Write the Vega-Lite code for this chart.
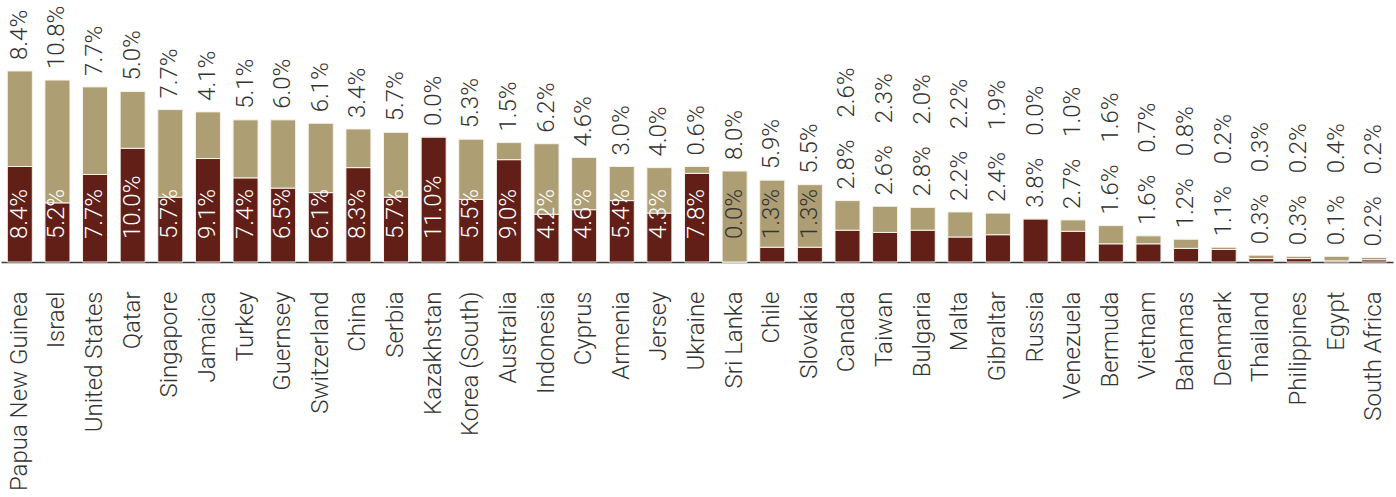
{
  "$schema": "https://vega.github.io/schema/vega-lite/v6.json",
  "autosize": {"type": "none"},
  "padding": {"left": 1, "top": 0, "right": 3, "bottom": 235},
  "width": 1392,
  "height": 262,
  "background": "white",
  "config": {"view": {"stroke": null}},
  "data": {"values": [
    {"country": "Papua New Guinea", "a": 0.084, "b": 0.084},
    {"country": "Israel", "a": 0.052, "b": 0.108},
    {"country": "United States", "a": 0.077, "b": 0.077},
    {"country": "Qatar", "a": 0.100, "b": 0.050},
    {"country": "Singapore", "a": 0.057, "b": 0.077},
    {"country": "Jamaica", "a": 0.091, "b": 0.041},
    {"country": "Turkey", "a": 0.074, "b": 0.051},
    {"country": "Guernsey", "a": 0.065, "b": 0.060},
    {"country": "Switzerland", "a": 0.061, "b": 0.061},
    {"country": "China", "a": 0.083, "b": 0.034},
    {"country": "Serbia", "a": 0.057, "b": 0.057},
    {"country": "Kazakhstan", "a": 0.110, "b": 0.000},
    {"country": "Korea (South)", "a": 0.055, "b": 0.053},
    {"country": "Australia", "a": 0.090, "b": 0.015},
    {"country": "Indonesia", "a": 0.042, "b": 0.062},
    {"country": "Cyprus", "a": 0.046, "b": 0.046},
    {"country": "Armenia", "a": 0.054, "b": 0.030},
    {"country": "Jersey", "a": 0.043, "b": 0.040},
    {"country": "Ukraine", "a": 0.078, "b": 0.006},
    {"country": "Sri Lanka", "a": 0.000, "b": 0.080},
    {"country": "Chile", "a": 0.013, "b": 0.059},
    {"country": "Slovakia", "a": 0.013, "b": 0.055},
    {"country": "Canada", "a": 0.028, "b": 0.026},
    {"country": "Taiwan", "a": 0.026, "b": 0.023},
    {"country": "Bulgaria", "a": 0.028, "b": 0.020},
    {"country": "Malta", "a": 0.022, "b": 0.022},
    {"country": "Gibraltar", "a": 0.024, "b": 0.019},
    {"country": "Russia", "a": 0.038, "b": 0.000},
    {"country": "Venezuela", "a": 0.027, "b": 0.010},
    {"country": "Bermuda", "a": 0.016, "b": 0.016},
    {"country": "Vietnam", "a": 0.016, "b": 0.007},
    {"country": "Bahamas", "a": 0.012, "b": 0.008},
    {"country": "Denmark", "a": 0.011, "b": 0.002},
    {"country": "Thailand", "a": 0.003, "b": 0.003},
    {"country": "Philippines", "a": 0.003, "b": 0.002},
    {"country": "Egypt", "a": 0.001, "b": 0.004},
    {"country": "South Africa", "a": 0.002, "b": 0.002}
  ]},
  "transform": [
    {"fold": ["a", "b"], "as": ["seg", "val"]},
    {"joinaggregate": [{"op": "sum", "field": "val", "as": "total"}], "groupby": ["country"]}
  ],
  "encoding": {
    "x": {
      "field": "country", "type": "nominal", "sort": null,
      "scale": {"paddingInner": 0.335, "paddingOuter": 0.1675},
      "axis": {
        "title": null, "labelAngle": 270, "labelAlign": "right", "labelBaseline": "middle",
        "labelFont": "Roboto", "labelFontWeight": 300, "labelFontSize": 24, "labelColor": "#333333",
        "labelLimit": 400, "labelPadding": 29, "ticks": false,
        "domainColor": "#3a3a3a", "domainWidth": 1.5
      }
    }
  },
  "layer": [
    {
      "mark": {"type": "bar", "stroke": "#f6f3ea", "strokeWidth": 1},
      "encoding": {
        "y": {"field": "val", "type": "quantitative", "stack": "zero",
              "scale": {"domain": [0, 0.2304], "nice": false}, "axis": null},
        "color": {"field": "seg", "type": "nominal",
                  "scale": {"domain": ["a", "b"], "range": ["#621f18", "#ad9e74"]}, "legend": null},
        "order": {"field": "seg", "sort": "ascending"}
      }
    },
    {
      "transform": [{"filter": "datum.seg == 'b' && datum.total >= 0.06"}],
      "mark": {"type": "text", "angle": 270, "align": "left", "baseline": "middle", "dx": 11,
               "font": "Roboto", "fontWeight": 300, "fontSize": 24, "color": "#333333"},
      "encoding": {
        "y": {"field": "total", "type": "quantitative", "stack": null},
        "text": {"field": "val", "type": "quantitative", "format": ".1%"}
      }
    },
    {
      "transform": [{"filter": "datum.seg == 'b' && datum.total < 0.06"}],
      "mark": {"type": "text", "angle": 270, "align": "left", "baseline": "middle", "dx": 83,
               "font": "Roboto", "fontWeight": 300, "fontSize": 24, "color": "#333333"},
      "encoding": {
        "y": {"field": "total", "type": "quantitative", "stack": null},
        "text": {"field": "val", "type": "quantitative", "format": ".1%"}
      }
    },
    {
      "transform": [{"filter": "datum.seg == 'a' && datum.total >= 0.06"}],
      "mark": {"type": "text", "angle": 270, "align": "left", "baseline": "middle", "dx": 23,
               "font": "Roboto", "fontWeight": 300, "fontSize": 24},
      "encoding": {
        "y": {"datum": 0, "type": "quantitative"},
        "text": {"field": "val", "type": "quantitative", "format": ".1%"},
        "color": {"condition": {"test": "datum.val >= 0.03", "value": "#ffffff"}, "value": "#333333"}
      }
    },
    {
      "transform": [{"filter": "datum.seg == 'a' && datum.total < 0.06"}],
      "mark": {"type": "text", "angle": 270, "align": "left", "baseline": "middle", "dx": 11,
               "font": "Roboto", "fontWeight": 300, "fontSize": 24, "color": "#333333"},
      "encoding": {
        "y": {"field": "total", "type": "quantitative", "stack": null},
        "text": {"field": "val", "type": "quantitative", "format": ".1%"}
      }
    }
  ]
}
